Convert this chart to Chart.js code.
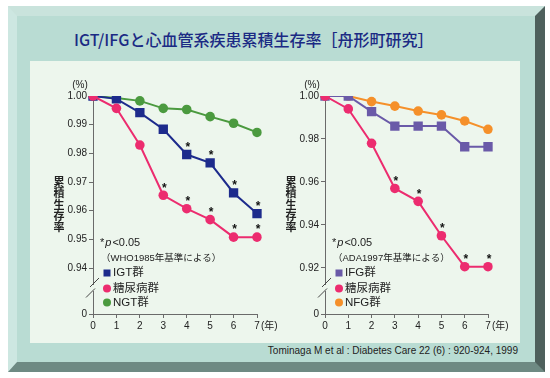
<!DOCTYPE html>
<html>
<head>
<meta charset="utf-8">
<script src="https://cdn.jsdelivr.net/npm/chart.js@4.4.0/dist/chart.umd.min.js"></script>
<style>
  body { margin: 0; width: 550px; height: 378px; background: #fff; position: relative; overflow: hidden; }
  .frame {
    position: absolute; left: 8px; top: 6px; width: 537px; height: 366px; box-sizing: border-box;
    background: #b9dcd3; border-style: solid; border-width: 10px 10px 10px 9px;
    border-color: #c9e3dc #4e605c #6e8a83 #cde7e1;
  }
  .panel { position: absolute; left: 30px; top: 61px; width: 490px; height: 282px; background: #edf6ed; }
  .title { position: absolute; left: 74px; top: 27px; font: 500 16px "Noto Sans CJK JP"; color: #1b2a84; white-space: nowrap; }
  .cite { position: absolute; right: 32px; top: 345px; font: 10px "Liberation Sans"; color: #222; white-space: nowrap; }
  canvas { position: absolute; }
</style>
</head>
<body>
<div class="frame"></div>
<div class="panel"></div>
<div class="title">IGT/IFGと心血管系疾患累積生存率［舟形町研究］</div>
<div class="cite">Tominaga M et al : Diabetes Care 22 (6) : 920-924, 1999</div>
<canvas id="leftChart" width="248" height="282" style="left:30px;top:61px"></canvas>
<canvas id="rightChart" width="242" height="282" style="left:278px;top:61px"></canvas>

<script>
// years of follow-up
const years = ['0', '1', '2', '3', '4', '5', '6', '7'];

// left: WHO1985 criteria
const leftIgt = [1.000, 0.9990, 0.9942, 0.9884, 0.9796, 0.9767, 0.9662, 0.9590];
const leftDm  = [1.000, 0.9957, 0.9829, 0.9654, 0.9607, 0.9569, 0.9508, 0.9508];
const leftNgt = [1.000, 0.9993, 0.9983, 0.9957, 0.9953, 0.9928, 0.9905, 0.9873];
const leftIgtSig = [0, 0, 0, 0, 1, 1, 1, 1];
const leftDmSig  = [0, 0, 0, 1, 1, 1, 1, 1];
const leftTicks = [0.94, 0.95, 0.96, 0.97, 0.98, 0.99, 1.00];
const leftBottom = 0.924;   // shown as "0" below the axis break

// right: ADA1997 criteria
const rightIfg = [1.000, 1.000, 0.9927, 0.9860, 0.9860, 0.9860, 0.9764, 0.9764];
const rightDm  = [1.000, 0.9940, 0.9780, 0.9570, 0.9510, 0.9350, 0.9206, 0.9206];
const rightNfg = [1.000, 1.000, 0.9974, 0.9953, 0.9930, 0.9912, 0.9884, 0.9845];
const rightDmSig = [0, 0, 0, 1, 1, 1, 1, 1];
const rightTicks = [0.92, 0.94, 0.96, 0.98, 1.00];
const rightBottom = 0.8986;

const PANEL = '#edf6ed';
const AXIS = '#6a6a6a';
const TEXT = '#222';
const LATIN = '"Liberation Sans", "Noto Sans CJK JP", sans-serif';
const CJK = '"Noto Sans CJK JP", sans-serif';

// Draws the extra bits: asterisks, axis break, unit labels, y title, note and legend
const decorPlugin = {
  id: 'decor',
  afterDatasetsDraw(chart) {
    const ctx = chart.ctx;
    ctx.save();
    ctx.fillStyle = '#111';
    ctx.font = 'bold 12px ' + LATIN;
    ctx.textAlign = 'center';
    ctx.textBaseline = 'middle';
    chart.data.datasets.forEach((ds, i) => {
      if (!ds.sig) return;
      const meta = chart.getDatasetMeta(i);
      meta.data.forEach((pt, j) => {
        if (ds.sig[j]) ctx.fillText('*', pt.x + 1, pt.y - 7);
      });
    });
    ctx.restore();
  },
  afterDraw(chart, args, opts) {
    const ctx = chart.ctx;
    const area = chart.chartArea;
    const ax = area.left, bot = area.bottom, top = area.top;
    ctx.save();

    // axis break
    ctx.fillStyle = PANEL;
    ctx.fillRect(ax - 2, bot - 29, 4, 6);
    ctx.strokeStyle = '#444';
    ctx.lineWidth = 1;
    ctx.beginPath();
    ctx.moveTo(ax + 1.5 - 4.5, bot - 31.5 + 4.5);
    ctx.lineTo(ax + 1.5 + 4.5, bot - 31.5 - 4.5);
    ctx.moveTo(ax - 2.5 - 4.5, bot - 21 + 4.5);
    ctx.lineTo(ax - 2.5 + 4.5, bot - 21 - 4.5);
    ctx.stroke();

    // units
    ctx.fillStyle = TEXT;
    ctx.font = '10px ' + LATIN;
    ctx.textBaseline = 'middle';
    ctx.textAlign = 'center';
    ctx.fillText('(%)', ax - 13, top - 11);
    const xEnd = chart.scales.x.getPixelForValue(years.length - 1);
    ctx.textAlign = 'left';
    ctx.fillText('(年)', xEnd + 4, bot + 12);

    // vertical y title
    ctx.font = 'bold 11px ' + CJK;
    ctx.textAlign = 'center';
    Array.from('累積生存率').forEach((ch, k) => {
      ctx.fillText(ch, ax - 34, top + 86 + k * 11.3);
    });

    // significance note
    let x = ax + 7;
    const yNote = bot - 71;
    ctx.textAlign = 'left';
    ctx.font = '11px ' + LATIN;
    ctx.fillText('*', x, yNote);
    x += ctx.measureText('*').width + 1;
    ctx.font = 'italic 11px ' + LATIN;
    ctx.fillText('p', x, yNote);
    x += ctx.measureText('p').width + 1;
    ctx.font = '11px ' + LATIN;
    ctx.fillText('<0.05', x, yNote);

    ctx.font = '9.5px ' + LATIN;
    ctx.fillText(opts.criteria, ax + 8, bot - 56);

    // legend
    const rows = [bot - 41, bot - 25.5, bot - 11.5];
    ctx.font = '11.5px ' + LATIN;
    chart.data.datasets.forEach((ds, i) => {
      const y = rows[i];
      const mx = ax + 14;
      ctx.fillStyle = ds.backgroundColor;
      if (ds.pointStyle === 'rect') {
        ctx.fillRect(mx - 3.5, y - 3.5, 7, 7);
      } else {
        ctx.beginPath();
        ctx.arc(mx, y, 4, 0, Math.PI * 2);
        ctx.fill();
      }
      ctx.fillStyle = TEXT;
      ctx.fillText(ds.label, ax + 20, y);
    });
    ctx.restore();
  }
};

function series(label, data, color, style, order, sig) {
  return {
    label: label,
    data: data,
    borderColor: color,
    backgroundColor: color,
    pointBackgroundColor: color,
    pointBorderColor: color,
    pointBorderWidth: 0,
    pointStyle: style,
    pointRadius: style === 'rect' ? 6.6 : 4.8,
    borderWidth: 2,
    tension: 0,
    order: order,
    sig: sig
  };
}

function makeChart(id, datasets, ticks, bottom, yWidth, padRight, criteria) {
  const ctx = document.getElementById(id).getContext('2d');
  return new Chart(ctx, {
    type: 'line',
    data: { labels: years, datasets: datasets },
    plugins: [decorPlugin],
    options: {
      responsive: false,
      animation: false,
      layout: { padding: { left: 0, top: 35, right: padRight, bottom: 0 } },
      plugins: {
        legend: { display: false },
        tooltip: { enabled: false },
        decor: { criteria: criteria }
      },
      scales: {
        x: {
          type: 'category',
          offset: false,
          grid: { drawOnChartArea: false, drawTicks: true, tickLength: 4, color: AXIS },
          border: { color: AXIS, width: 1 },
          ticks: { padding: 2, color: TEXT, font: { size: 10, family: LATIN }, maxRotation: 0, autoSkip: false },
          afterFit: function(scale) { scale.height = 29; }
        },
        y: {
          min: bottom,
          max: 1.0,
          grid: { drawOnChartArea: false, drawTicks: true, tickLength: 4, color: AXIS },
          border: { color: AXIS, width: 1 },
          ticks: {
            padding: 2,
            color: TEXT,
            font: { size: 10, family: LATIN },
            callback: function(value, index) { return index === 0 ? '0' : value.toFixed(2); }
          },
          afterBuildTicks: function(scale) {
            scale.ticks = [bottom].concat(ticks).map(v => ({ value: v }));
          },
          afterFit: function(scale) { scale.width = yWidth; }
        }
      }
    }
  });
}

makeChart('leftChart', [
  series('IGT群', leftIgt, '#1d2b8c', 'rect', 1, leftIgtSig),
  series('糖尿病群', leftDm, '#ec2c6f', 'circle', 0, leftDmSig),
  series('NGT群', leftNgt, '#4b9a3f', 'circle', 2, null)
], leftTicks, leftBottom, 63, 21, '（WHO1985年基準による）');

makeChart('rightChart', [
  series('IFG群', rightIfg, '#6a5aa8', 'rect', 1, null),
  series('糖尿病群', rightDm, '#ec2c6f', 'circle', 0, rightDmSig),
  series('NFG群', rightNfg, '#f5902a', 'circle', 2, null)
], rightTicks, rightBottom, 47, 32, '（ADA1997年基準による）');
</script>
</body>
</html>
